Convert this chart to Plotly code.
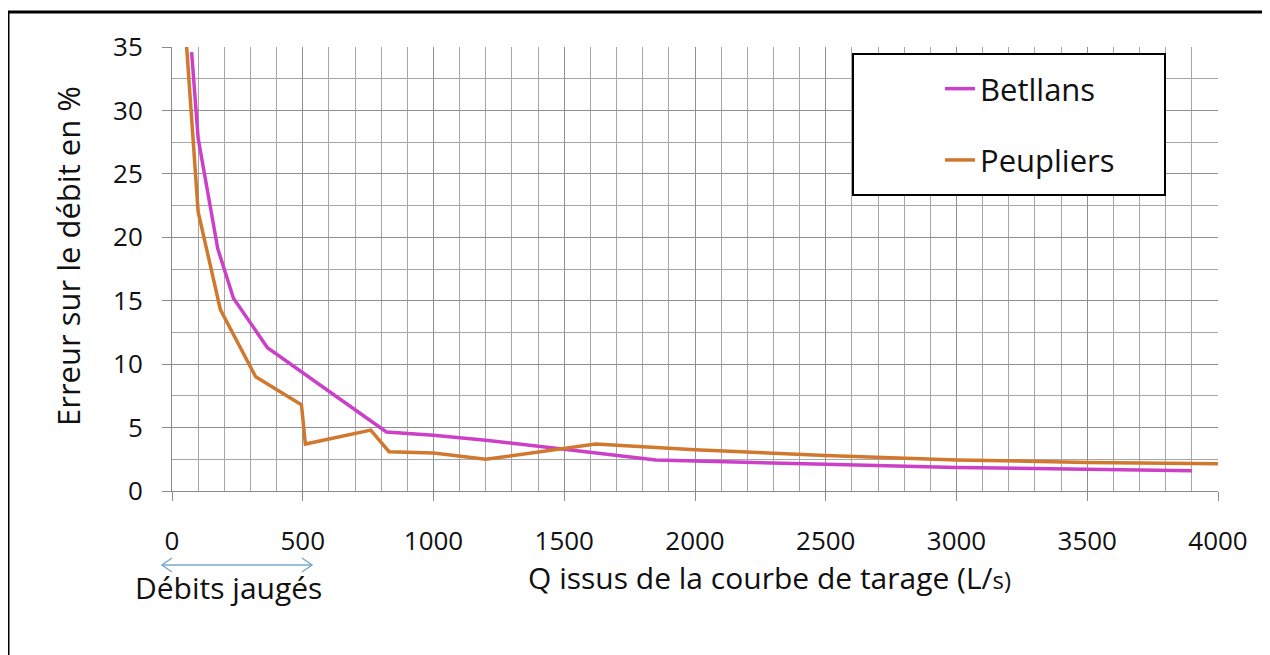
import plotly.graph_objects as go

# Débits (L/s) et erreur (%)
betllans_q = [75, 100, 175, 235, 365, 820, 1000, 1200, 1500, 1850, 2500, 3000, 3900]
betllans_err = [34.6, 27.8, 19.1, 15.2, 11.3, 4.65, 4.4, 4.0, 3.3, 2.45, 2.1, 1.85, 1.6]

peupliers_q = [56, 100, 185, 320, 495, 510, 760, 830, 1000, 1200, 1620, 2000, 2500, 3000, 3500, 4000]
peupliers_err = [35, 22, 14.3, 9.0, 6.8, 3.7, 4.8, 3.1, 3.0, 2.5, 3.7, 3.25, 2.8, 2.45, 2.25, 2.15]

x_ticks = [0, 500, 1000, 1500, 2000, 2500, 3000, 3500, 4000]
y_ticks = [0, 5, 10, 15, 20, 25, 30, 35]

# la page html ajoute une marge de 8 px autour de la figure
OFF = 8
W, H = 1270 - OFF, 655 - OFF
L, R, T, B = 172, 1218, 47, 491  # zone de tracé, pixels de la fenêtre


def px(x):
    return (x - L) / (R - L)


def py(y):
    return (B - y) / (B - T)


FONT = "Open Sans"
TXT = "#111111"

fig = go.Figure()
fig.add_trace(go.Scatter(
    x=betllans_q, y=betllans_err, mode="lines", name="Betllans",
    line=dict(color="#CC40C8", width=3.5), legendgroup="a",
))
fig.add_trace(go.Scatter(
    x=peupliers_q, y=peupliers_err, mode="lines", name="Peupliers",
    line=dict(color="#D0792E", width=3.5), legendgroup="b",
))

fig.update_xaxes(
    range=[0, 4000], tickvals=x_ticks, showgrid=True, gridcolor="#8f8f8f", gridwidth=1,
    minor=dict(dtick=100, showgrid=True, gridcolor="#a6a6a6", gridwidth=1),
    showline=True, linecolor="#8a8a8a", linewidth=1,
    ticks="outside", ticklen=9, tickcolor="#8a8a8a",
    ticklabelstandoff=18, zeroline=False,
    tickfont=dict(family=FONT, size=26, color=TXT),
)
fig.update_yaxes(
    range=[0, 35], tickvals=y_ticks, showgrid=True, gridcolor="#8f8f8f", gridwidth=1,
    minor=dict(dtick=2.5, showgrid=True, gridcolor="#a6a6a6", gridwidth=1),
    showline=True, linecolor="#8a8a8a", linewidth=1,
    ticks="outside", ticklen=9, tickcolor="#8a8a8a",
    ticklabelstandoff=14, zeroline=False,
    tickfont=dict(family=FONT, size=26, color=TXT),
)

arrow_y = py(565)
a0, a1 = px(162), px(312)
dx, dy = 10 / (R - L), 7 / (B - T)
arrow_col = "#7AA8CC"

fig.update_layout(
    width=W, height=H,
    margin=dict(l=L - OFF, r=W - (R - OFF), t=T - OFF, b=H - (B - OFF)),
    paper_bgcolor="white", plot_bgcolor="white",
    font=dict(family=FONT, color=TXT),
    showlegend=True,
    legend=dict(
        x=px(940), y=py(62), xanchor="left", yanchor="top",
        bgcolor="rgba(0,0,0,0)", borderwidth=0,
        font=dict(family=FONT, size=31, color=TXT),
        tracegroupgap=28,
    ),
    shapes=[
        # cadre extérieur
        dict(type="rect", xref="paper", yref="paper",
             x0=px(8), x1=px(1264), y0=py(665), y1=py(12),
             line=dict(color="black", width=3)),
        # cadre de la légende
        dict(type="rect", xref="paper", yref="paper", layer="above",
             x0=px(853), x1=px(1165), y0=py(195), y1=py(54),
             fillcolor="white", line=dict(color="black", width=2)),
        # flèche des débits jaugés
        dict(type="line", xref="paper", yref="paper",
             x0=a0, x1=a1, y0=arrow_y, y1=arrow_y,
             line=dict(color=arrow_col, width=1.5)),
        dict(type="path", xref="paper", yref="paper",
             path=f"M{a0 + dx},{arrow_y + dy} L{a0},{arrow_y} L{a0 + dx},{arrow_y - dy}",
             line=dict(color=arrow_col, width=1.5)),
        dict(type="path", xref="paper", yref="paper",
             path=f"M{a1 - dx},{arrow_y + dy} L{a1},{arrow_y} L{a1 - dx},{arrow_y - dy}",
             line=dict(color=arrow_col, width=1.5)),
    ],
    annotations=[
        dict(text="Erreur sur le débit en %", xref="paper", yref="paper",
             x=px(68), y=py(256), textangle=-90, showarrow=False,
             xanchor="center", yanchor="middle",
             font=dict(family=FONT, size=31, color=TXT)),
        dict(text="Q issus de la courbe de tarage (L/<span style='font-size:24px'>s)</span>",
             xref="paper", yref="paper", x=px(769), y=py(577), showarrow=False,
             xanchor="center", yanchor="middle",
             font=dict(family=FONT, size=30, color=TXT)),
        dict(text="Débits jaugés", xref="paper", yref="paper",
             x=px(228), y=py(587), showarrow=False,
             xanchor="center", yanchor="middle",
             font=dict(family=FONT, size=30, color=TXT)),
    ],
)

fig.write_html("out.html")
